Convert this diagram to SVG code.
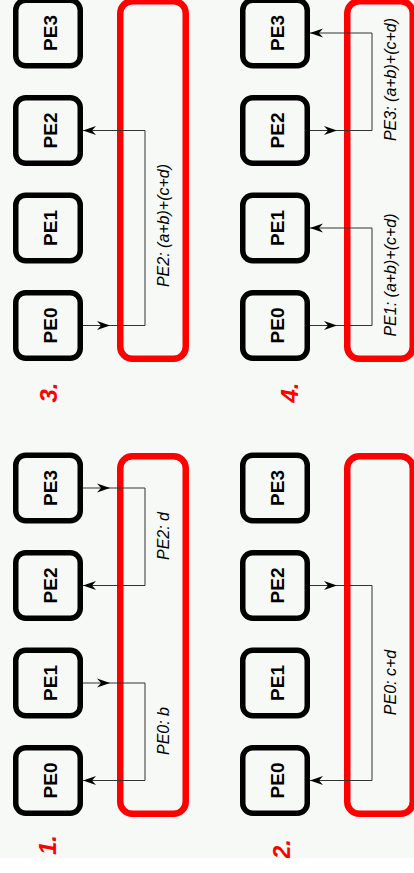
<svg xmlns="http://www.w3.org/2000/svg" width="414" height="873" viewBox="0 0 414 873">
<defs>
<marker id="ah" markerUnits="userSpaceOnUse" markerWidth="14" markerHeight="10" refX="13" refY="5" orient="auto">
<path d="M0,0.5 L13,5 L0,9.5 L4,5 Z" fill="#000"/>
</marker>
<style>
.pe{fill:none;stroke:#000;stroke-width:5.5}
.net{fill:none;stroke:#ff0000;stroke-width:6.5}
.pet{font-family:"Liberation Sans",Arial,sans-serif;font-weight:bold;font-size:19px;fill:#000;text-anchor:middle}
.lbl{font-family:"Liberation Sans",Arial,sans-serif;font-style:italic;font-size:16px;fill:#000;text-anchor:middle}
.step{font-family:"Liberation Sans",Arial,sans-serif;font-style:italic;font-weight:bold;font-size:24px;fill:#ff0000;text-anchor:middle}
.c{fill:none;stroke:#333;stroke-width:1}
</style>
</defs>
<rect x="0" y="0" width="414" height="873" fill="#f6f9f6"/>

<!-- Panel 1 -->
<g id="panel1">
<g id="p1-pe0"><rect class="pe" x="15.75" y="747.75" width="64.5" height="65.5" rx="10"/><text class="pet" transform="translate(57,780.5) rotate(-90)">PE0</text></g>
<g id="p1-pe1"><rect class="pe" x="15.75" y="650.25" width="64.5" height="65.5" rx="10"/><text class="pet" transform="translate(57,683) rotate(-90)">PE1</text></g>
<g id="p1-pe2"><rect class="pe" x="15.75" y="552.75" width="64.5" height="65.5" rx="10"/><text class="pet" transform="translate(57,585.5) rotate(-90)">PE2</text></g>
<g id="p1-pe3"><rect class="pe" x="15.75" y="455.25" width="64.5" height="65.5" rx="10"/><text class="pet" transform="translate(57,488) rotate(-90)">PE3</text></g>
<g id="p1-net"><rect class="net" x="120.25" y="456.25" width="65.5" height="357.5" rx="12"/>
<text class="lbl" transform="translate(169,536) rotate(-90)">PE2: d</text>
<text class="lbl" transform="translate(169,731) rotate(-90)">PE0: b</text></g>
<g id="p1-step"><text class="step" transform="translate(56,845) rotate(-90)">1.</text></g>
</g>

<!-- Panel 2 -->
<g id="panel2">
<g id="p2-pe0"><rect class="pe" x="242.75" y="747.75" width="64.5" height="65.5" rx="10"/><text class="pet" transform="translate(284,780.5) rotate(-90)">PE0</text></g>
<g id="p2-pe1"><rect class="pe" x="242.75" y="650.25" width="64.5" height="65.5" rx="10"/><text class="pet" transform="translate(284,683) rotate(-90)">PE1</text></g>
<g id="p2-pe2"><rect class="pe" x="242.75" y="552.75" width="64.5" height="65.5" rx="10"/><text class="pet" transform="translate(284,585.5) rotate(-90)">PE2</text></g>
<g id="p2-pe3"><rect class="pe" x="242.75" y="455.25" width="64.5" height="65.5" rx="10"/><text class="pet" transform="translate(284,488) rotate(-90)">PE3</text></g>
<g id="p2-net"><rect class="net" x="347.25" y="456.25" width="65.5" height="357.5" rx="12"/>
<text class="lbl" transform="translate(396,682.5) rotate(-90)">PE0: c+d</text></g>
<g id="p2-step"><text class="step" transform="translate(290,849) rotate(-90)">2.</text></g>
</g>

<!-- Panel 3 -->
<g id="panel3">
<g id="p3-pe0"><rect class="pe" x="15.75" y="292.75" width="64.5" height="65.5" rx="10"/><text class="pet" transform="translate(57,325.5) rotate(-90)">PE0</text></g>
<g id="p3-pe1"><rect class="pe" x="15.75" y="195.25" width="64.5" height="65.5" rx="10"/><text class="pet" transform="translate(57,228) rotate(-90)">PE1</text></g>
<g id="p3-pe2"><rect class="pe" x="15.75" y="97.75" width="64.5" height="65.5" rx="10"/><text class="pet" transform="translate(57,130.5) rotate(-90)">PE2</text></g>
<g id="p3-pe3"><rect class="pe" x="15.75" y="0.25" width="64.5" height="65.5" rx="10"/><text class="pet" transform="translate(57,33) rotate(-90)">PE3</text></g>
<g id="p3-net"><rect class="net" x="120.25" y="1.25" width="65.5" height="357.5" rx="12"/>
<text class="lbl" transform="translate(169,225.5) rotate(-90)">PE2: (a+b)+(c+d)</text></g>
<g id="p3-step"><text class="step" transform="translate(57,392.5) rotate(-90)">3.</text></g>
</g>

<!-- Panel 4 -->
<g id="panel4">
<g id="p4-pe0"><rect class="pe" x="242.75" y="292.75" width="64.5" height="65.5" rx="10"/><text class="pet" transform="translate(284,325.5) rotate(-90)">PE0</text></g>
<g id="p4-pe1"><rect class="pe" x="242.75" y="195.25" width="64.5" height="65.5" rx="10"/><text class="pet" transform="translate(284,228) rotate(-90)">PE1</text></g>
<g id="p4-pe2"><rect class="pe" x="242.75" y="97.75" width="64.5" height="65.5" rx="10"/><text class="pet" transform="translate(284,130.5) rotate(-90)">PE2</text></g>
<g id="p4-pe3"><rect class="pe" x="242.75" y="0.25" width="64.5" height="65.5" rx="10"/><text class="pet" transform="translate(284,33) rotate(-90)">PE3</text></g>
<g id="p4-net"><rect class="net" x="347.25" y="1.25" width="65.5" height="357.5" rx="12"/>
<text class="lbl" transform="translate(396,79.5) rotate(-90)">PE3: (a+b)+(c+d)</text>
<text class="lbl" transform="translate(396,275) rotate(-90)">PE1: (a+b)+(c+d)</text></g>
<g id="p4-step"><text class="step" transform="translate(298,392.5) rotate(-90)">4.</text></g>
</g>

<g id="connectors">
<path class="c" d="M83,488 H110" marker-end="url(#ah)"/>
<path class="c" d="M110,488 H145 V585.5 H83" marker-end="url(#ah)"/>
<path class="c" d="M83,683 H110" marker-end="url(#ah)"/>
<path class="c" d="M110,683 H145 V780.5 H83" marker-end="url(#ah)"/>
<path class="c" d="M310,585.5 H337" marker-end="url(#ah)"/>
<path class="c" d="M337,585.5 H372 V780.5 H310" marker-end="url(#ah)"/>
<path class="c" d="M83,325.5 H110" marker-end="url(#ah)"/>
<path class="c" d="M110,325.5 H145 V130.5 H83" marker-end="url(#ah)"/>
<path class="c" d="M310,325.5 H337" marker-end="url(#ah)"/>
<path class="c" d="M337,325.5 H372 V228 H310" marker-end="url(#ah)"/>
<path class="c" d="M310,130.5 H337" marker-end="url(#ah)"/>
<path class="c" d="M337,130.5 H372 V33 H310" marker-end="url(#ah)"/>
</g>
<rect x="0" y="858" width="414" height="15" fill="#ffffff"/>
</svg>
